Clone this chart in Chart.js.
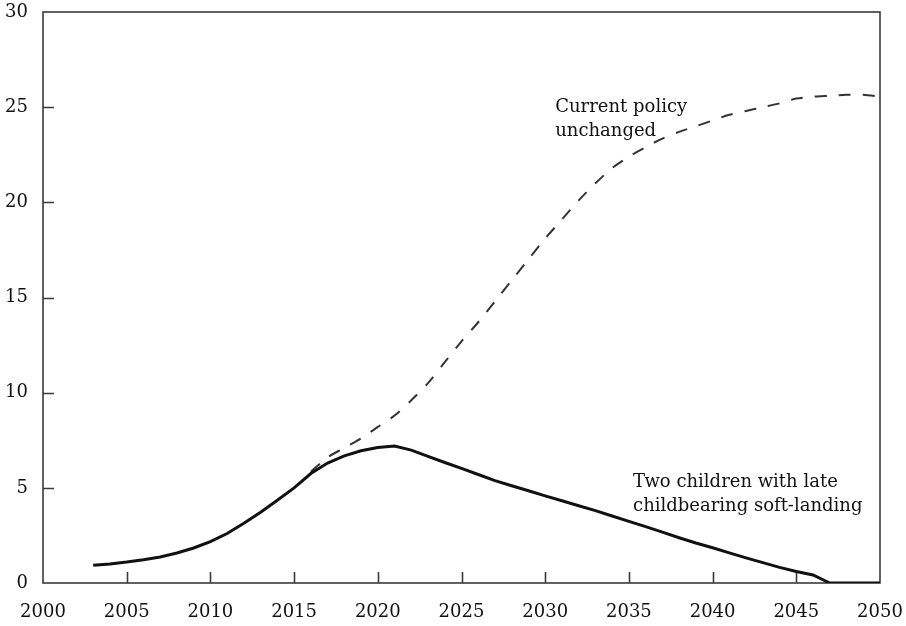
<!DOCTYPE html>
<html>
<head>
<meta charset="utf-8">
<script src="https://cdn.jsdelivr.net/npm/chart.js@4/dist/chart.umd.min.js"></script>
<style>
  html, body { margin: 0; padding: 0; background: #fff; }
  #wrap { width: 906px; height: 626px; }
</style>
</head>
<body>
<div id="wrap"><canvas id="c" width="906" height="626"></canvas></div>
<script>
// Years on the horizontal axis
const twoChildYears = [2003, 2004, 2005, 2006, 2007, 2008, 2009, 2010, 2011, 2012,
  2013, 2014, 2015, 2016, 2017, 2018, 2019, 2020, 2021, 2022, 2023, 2024, 2025,
  2026, 2027, 2028, 2029, 2030, 2031, 2032, 2033, 2034, 2035, 2036, 2037, 2038,
  2039, 2040, 2041, 2042, 2043, 2044, 2045, 2046, 2047, 2048, 2049, 2050];
const twoChildValues = [0.93, 1.0, 1.1, 1.22, 1.37, 1.58, 1.84, 2.17, 2.6, 3.14,
  3.72, 4.35, 5.0, 5.75, 6.3, 6.68, 6.95, 7.12, 7.2, 6.98, 6.65, 6.33, 6.02,
  5.7, 5.38, 5.11, 4.85, 4.58, 4.32, 4.06, 3.8, 3.52, 3.24, 2.96, 2.67, 2.38,
  2.1, 1.85, 1.58, 1.32, 1.07, 0.82, 0.6, 0.42, 0.0, 0.0, 0.0, 0.0];

const currentPolicyYears = [2016, 2017, 2018, 2019, 2020, 2021, 2022, 2023, 2024,
  2025, 2026, 2027, 2028, 2029, 2030, 2031, 2032, 2033, 2034, 2035, 2036, 2037,
  2038, 2039, 2040, 2041, 2042, 2043, 2044, 2045, 2046, 2047, 2048, 2049, 2050];
const currentPolicyValues = [5.85, 6.6, 7.1, 7.6, 8.2, 8.8, 9.6, 10.5, 11.6,
  12.7, 13.7, 14.8, 15.9, 17.0, 18.1, 19.1, 20.1, 21.0, 21.8, 22.4, 22.9, 23.35,
  23.7, 24.0, 24.3, 24.6, 24.8, 25.0, 25.2, 25.45, 25.55, 25.6, 25.65, 25.65, 25.55];

const xTicks = [2000, 2005, 2010, 2015, 2020, 2025, 2030, 2035, 2040, 2045, 2050];
const yTicks = [0, 5, 10, 15, 20, 25, 30];

// Curve captions, anchored in data units (left edge, baseline)
const notes = [
  { lines: ['Current policy', 'unchanged'], x: 2030.6, y: 24.75 },
  { lines: ['Two children with late', 'childbearing soft-landing'], x: 2035.25, y: 5.04 }
];

const FONT = '"DejaVu Serif", "Liberation Serif", serif';
const INK = '#111';

const toPoints = (xs, ys) => xs.map((x, i) => ({ x, y: ys[i] }));

// Boxed frame with inward-facing tick marks
const framePlugin = {
  id: 'frame',
  beforeDatasetsDraw(chart) {
    const { ctx, chartArea: a, scales: { x, y } } = chart;
    ctx.save();
    ctx.strokeStyle = '#3a3a3a';
    ctx.lineWidth = 1.6;
    ctx.strokeRect(a.left, a.top, a.right - a.left, a.bottom - a.top);
    ctx.beginPath();
    xTicks.slice(1, -1).forEach(v => {
      const px = Math.round(x.getPixelForValue(v)) + 0.5;
      ctx.moveTo(px, a.bottom);
      ctx.lineTo(px, a.bottom - 11);
    });
    yTicks.slice(1, -1).forEach(v => {
      const py = Math.round(y.getPixelForValue(v)) + 0.5;
      ctx.moveTo(a.left, py);
      ctx.lineTo(a.left + 11, py);
    });
    ctx.stroke();
    ctx.restore();
  },
  afterDatasetsDraw(chart) {
    const { ctx, scales: { x, y } } = chart;
    ctx.save();
    ctx.font = '18px ' + FONT;
    ctx.fillStyle = INK;
    ctx.textAlign = 'left';
    ctx.textBaseline = 'alphabetic';
    notes.forEach(n => {
      const px = x.getPixelForValue(n.x);
      const py = y.getPixelForValue(n.y);
      n.lines.forEach((t, i) => ctx.fillText(t, px, py + i * 24));
    });
    ctx.restore();
  }
};

new Chart(document.getElementById('c'), {
  type: 'line',
  data: {
    datasets: [
      {
        label: 'Two children with late childbearing soft-landing',
        data: toPoints(twoChildYears, twoChildValues),
        borderColor: '#111',
        borderWidth: 3,
        pointRadius: 0,
        tension: 0,
        fill: false
      },
      {
        label: 'Current policy unchanged',
        data: toPoints(currentPolicyYears, currentPolicyValues),
        borderColor: '#333',
        borderWidth: 2,
        borderDash: [12, 12],
        pointRadius: 0,
        tension: 0.3,
        fill: false
      }
    ]
  },
  options: {
    responsive: false,
    animation: false,
    layout: { padding: { top: 12, right: 26, left: 0, bottom: 0 } },
    plugins: { legend: { display: false }, tooltip: { enabled: false } },
    scales: {
      x: {
        type: 'linear',
        min: 2000,
        max: 2050,
        afterBuildTicks(s) { s.ticks = xTicks.map(v => ({ value: v })); },
        afterFit(s) { s.height = 43; s.paddingLeft = 0; s.paddingRight = 0; },
        grid: { display: false, drawTicks: false },
        border: { display: false },
        ticks: {
          padding: 19,
          color: INK,
          font: { family: FONT, size: 18 },
          maxRotation: 0,
          callback: v => String(v)
        }
      },
      y: {
        type: 'linear',
        min: 0,
        max: 30,
        afterBuildTicks(s) { s.ticks = yTicks.map(v => ({ value: v })); },
        afterFit(s) { s.width = 43; s.paddingTop = 0; s.paddingBottom = 0; },
        grid: { display: false, drawTicks: false },
        border: { display: false },
        ticks: {
          padding: 15,
          color: INK,
          font: { family: FONT, size: 18 }
        }
      }
    }
  },
  plugins: [framePlugin]
});
</script>
</body>
</html>
